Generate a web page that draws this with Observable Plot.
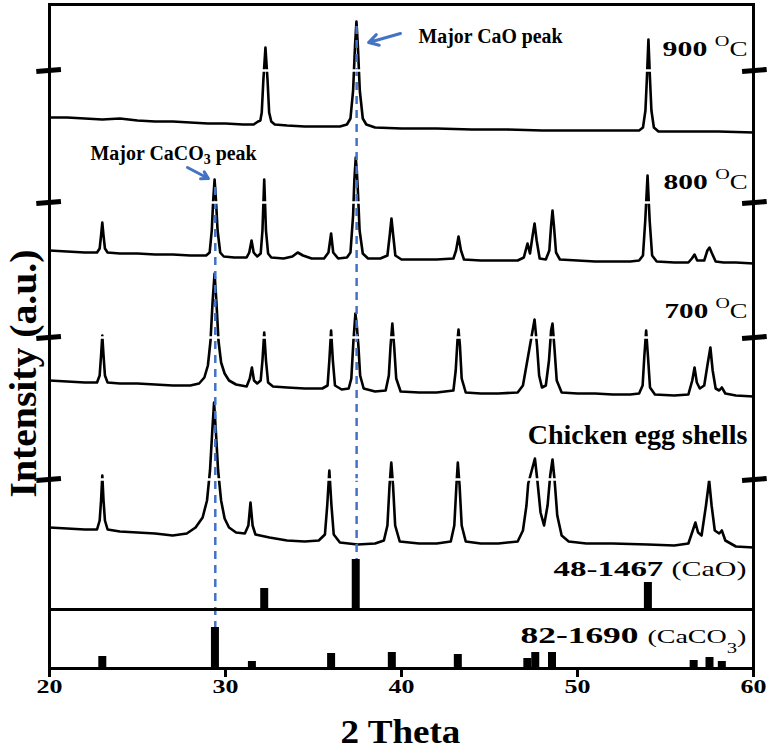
<!DOCTYPE html>
<html><head><meta charset="utf-8">
<script src="https://cdn.jsdelivr.net/npm/d3@7"></script>
<script src="https://cdn.jsdelivr.net/npm/@observablehq/plot@0.6"></script>
<style>
html,body{margin:0;padding:0;background:#fff;}
svg{display:block;}
</style></head><body>
<script>
// ---------- DATA (2θ, intensity in arbitrary units, stacked offsets as drawn) ----------
const xTicks = [20, 30, 40, 50, 60];

const trace900 = [[20,551],[21,551],[22,550],[23,549],[24,550],[25,548],[26,547],[27,547],[28,546],[29,545],[30,545],[31,544],[31.6,544],[31.85,547],[31.98,548],[32.06,556],[32.15,588],[32.27,621],[32.39,588],[32.48,556],[32.6,547],[32.8,544],[33.5,543],[34.5,542],[35.5,542],[36.5,542],[36.9,544],[37.1,550],[37.25,578],[37.36,623],[37.44,647],[37.52,623],[37.63,578],[37.8,550],[38.0,544],[38.5,541],[40,540],[42,540],[44,539],[46,539],[48,538],[50,538],[52,538],[53.5,538],[53.72,541],[53.86,558],[53.95,593],[54.03,629],[54.11,593],[54.2,558],[54.34,541],[54.6,537],[56,537],[58,537],[60,536]];

const trace800 = [[20,418],[21,417],[22,416],[22.7,416],[22.85,420],[22.93,433],[23.0,446],[23.07,433],[23.15,420],[23.3,416],[24,415],[25,415],[26,414],[27,414],[28,413],[28.9,413],[29.1,416],[29.22,438],[29.3,468],[29.38,489],[29.46,468],[29.55,438],[29.7,416],[29.9,412],[30.5,411],[31.2,411],[31.35,416],[31.48,428],[31.6,416],[31.8,412],[32.0,415],[32.1,438],[32.2,489],[32.3,438],[32.42,415],[32.6,411],[33.3,410],[33.8,412],[34.1,416],[34.4,413],[34.9,410],[35.6,410],[35.85,416],[36.0,435],[36.12,416],[36.4,410],[36.9,411],[37.1,416],[37.25,453],[37.32,488],[37.4,511],[37.46,498],[37.52,478],[37.62,438],[37.8,415],[38.1,410],[38.8,410],[39.2,413],[39.33,433],[39.43,450],[39.53,433],[39.65,413],[40.0,409],[41,409],[42,409],[42.95,410],[43.1,418],[43.24,432],[43.38,418],[43.55,409],[44.5,408],[45.5,408],[46.6,408],[46.95,411],[47.16,425],[47.3,415],[47.45,433],[47.56,445],[47.68,428],[47.85,410],[48.2,409],[48.4,418],[48.5,443],[48.58,458],[48.66,443],[48.78,416],[49.0,409],[50,408],[51,407],[52,407],[53,407],[53.5,408],[53.72,413],[53.85,448],[53.98,493],[54.1,448],[54.24,413],[54.5,407],[55.5,406],[56.3,406],[56.5,410],[56.65,414],[56.8,408],[57.2,408],[57.38,418],[57.5,421],[57.62,416],[57.85,407],[58.3,406],[59,406],[60,405]];

const trace700 = [[20,288],[21,287],[22,286],[22.7,286],[22.85,293],[22.93,313],[23.0,333],[23.07,313],[23.15,293],[23.3,286],[24,285],[25,285],[26,284],[27,283],[28,283],[28.5,285],[28.8,291],[29.0,303],[29.15,328],[29.27,368],[29.38,395],[29.48,368],[29.6,328],[29.75,306],[29.95,295],[30.2,288],[30.6,284],[31.2,282],[31.38,290],[31.5,301],[31.62,288],[31.8,285],[32.0,288],[32.1,308],[32.2,336],[32.3,308],[32.42,286],[32.7,282],[33.5,281],[34.5,280],[35.5,280],[35.8,283],[35.9,308],[36.0,338],[36.1,308],[36.22,283],[36.6,279],[37.0,280],[37.15,290],[37.27,328],[37.38,355],[37.46,343],[37.55,323],[37.65,293],[37.85,280],[38.5,277],[39.1,278],[39.28,293],[39.38,323],[39.48,345],[39.58,323],[39.7,290],[39.95,277],[41,276],[42,276],[42.95,278],[43.08,298],[43.18,328],[43.24,339],[43.32,323],[43.42,290],[43.65,276],[44.5,275],[45.5,275],[46.6,276],[46.9,283],[47.1,303],[47.25,318],[47.4,333],[47.56,349],[47.7,323],[47.82,293],[47.98,281],[48.2,283],[48.38,308],[48.5,338],[48.58,345],[48.68,323],[48.82,288],[49.1,276],[50,275],[51,275],[52,274],[53,274],[53.5,275],[53.7,283],[53.8,313],[53.9,338],[54.0,313],[54.12,281],[54.4,274],[55.5,273],[56.3,274],[56.52,288],[56.65,301],[56.78,286],[56.95,280],[57.2,283],[57.38,303],[57.55,321],[57.68,298],[57.85,280],[58.05,278],[58.2,281],[58.4,275],[59,273],[60,272]];

const traceEgg = [[20,141],[21,140],[22,139],[22.7,139],[22.85,148],[22.93,168],[23.0,193],[23.07,168],[23.15,148],[23.3,139],[24,137],[25,136],[26,135],[27,133],[27.8,135],[28.3,141],[28.7,151],[28.95,168],[29.12,198],[29.25,238],[29.35,266],[29.45,238],[29.58,198],[29.75,168],[29.95,150],[30.2,141],[30.6,136],[31.1,135],[31.3,143],[31.42,166],[31.54,143],[31.7,134],[32.5,131],[33.5,128],[34.5,127],[35.3,128],[35.65,134],[35.78,163],[35.9,198],[36.02,163],[36.15,134],[36.5,126],[37.5,124],[38.5,125],[39.0,128],[39.2,143],[39.32,183],[39.42,206],[39.52,183],[39.64,143],[39.9,127],[41,125],[42,125],[42.8,127],[43.0,143],[43.12,183],[43.2,206],[43.3,183],[43.42,143],[43.65,127],[44.5,125],[45.5,125],[46.6,127],[46.9,138],[47.1,163],[47.2,185],[47.4,198],[47.58,210],[47.72,188],[47.9,156],[48.1,143],[48.3,163],[48.45,193],[48.58,209],[48.7,188],[48.85,153],[49.1,133],[49.5,127],[50.5,125],[52,125],[54,124],[55.5,123],[56.3,125],[56.55,138],[56.7,146],[56.85,136],[57.05,133],[57.3,163],[57.48,188],[57.62,163],[57.8,138],[58.05,135],[58.2,138],[58.4,128],[59,122],[60,121]];

// Reference patterns (JCPDS)
const caoBase = 59;
const caoPeaks = [32.2, 37.4, 54.0];
const caoHeights = [21, 50, 27];
const caco3Peaks = [23.0, 29.4, 31.5, 36.0, 39.45, 43.2, 47.15, 47.6, 48.55, 56.6, 57.5, 58.2];
const caco3Heights = [12, 41, 7, 15, 16, 14, 10, 16, 16, 8, 11, 7];

// Annotations
const sampleLabels = ["900 OC", "800 OC", "700 OC", "Chicken egg shells"];
const refLabels = ["48-1467 (CaO)", "82-1690 (CaCO3)"];
const majorLabels = ["Major CaO peak", "Major CaCO3 peak"];
const breakLevels = [598, 466, 331, 189];
const majorLines = [{x: 29.42, y1: 39, y2: 487}, {x: 37.45, y1: 102, y2: 646}];

// ---------- LAYOUT ----------
const blue = "#4472c4";
const sampleY = [613, 480, 351, 225];
const sampleW = [85, 84, 83, 220];
const refY = [93, 26];
const refW = [193, 226];
const arrows = [
  {x1: 39.94, y1: 635, x2: 38.13, y2: 626},
  {x1: 27.84, y1: 501, x2: 29.03, y2: 490}
];
const majorPos = [{x: 40.97, y: 626, w: 145}, {x: 22.33, y: 509, w: 167}];

const P = d => d[0], V = d => d[1];
const lineOpts = {x: P, y: V, stroke: "black", strokeWidth: 2.6, strokeLinejoin: "round"};

const plot = Plot.plot({
  width: 770, height: 751,
  marginLeft: 49, marginRight: 17, marginTop: 4, marginBottom: 83,
  x: {domain: [20, 60], axis: null},
  y: {domain: [0, 664], axis: null},
  style: {fontFamily: "'Liberation Serif', 'Times New Roman', serif", background: "white", overflow: "visible"},
  marks: [
    Plot.line(trace900, lineOpts),
    Plot.line(trace800, lineOpts),
    Plot.line(trace700, lineOpts),
    Plot.line(traceEgg, lineOpts),
    Plot.ruleX(majorLines, {x: "x", y1: "y1", y2: "y2", stroke: blue, strokeWidth: 2.5, strokeDasharray: "8,6"}),
    Plot.ruleY(breakLevels, {x1: 20.15, x2: 59.85, y: d => d, stroke: "white", strokeWidth: 2.5}),
    Plot.ruleX(caoPeaks, {x: d => d, y1: caoBase, y2: (d, i) => caoBase + caoHeights[i], stroke: "black", strokeWidth: 8}),
    Plot.ruleX(caco3Peaks, {x: d => d, y1: 0, y2: (d, i) => caco3Heights[i], stroke: "black", strokeWidth: 8}),
    Plot.ruleY([caoBase], {x1: 20, x2: 60, y: d => d, stroke: "black", strokeWidth: 3}),
    Plot.frame({stroke: "black", strokeWidth: 3}),
    Plot.link(breakLevels, {x1: 19.25, x2: 20.65, y1: d => d - 1, y2: d => d + 1, stroke: "black", strokeWidth: 5}),
    Plot.link(breakLevels, {x1: 59.35, x2: 60.75, y1: d => d - 1, y2: d => d + 1, stroke: "black", strokeWidth: 5}),
    Plot.arrow(arrows, {x1: "x1", y1: "y1", x2: "x2", y2: "y2", stroke: blue, strokeWidth: 3, headLength: 11}),
    Plot.axisX({ticks: xTicks, tickSize: 9, tickPadding: 2, strokeWidth: 3, fontSize: 19, fontWeight: "bold", label: null, tickFormat: d => String(d)}),
    Plot.text(sampleLabels, {x: 59.66, y: (d, i) => sampleY[i], text: d => d, textAnchor: "end", lineAnchor: "bottom", fontSize: 27, fontWeight: "bold"}),
    Plot.text(refLabels, {x: 59.6, y: (d, i) => refY[i], text: d => d, textAnchor: "end", lineAnchor: "bottom", fontSize: 24, fontWeight: "bold"}),
    Plot.text(majorLabels, {x: (d, i) => majorPos[i].x, y: (d, i) => majorPos[i].y, text: d => d, textAnchor: "start", lineAnchor: "bottom", fontSize: 20, fontWeight: "bold"}),
    Plot.text(["2 Theta"], {x: 39.94, y: -74, text: d => d, textAnchor: "middle", lineAnchor: "bottom", fontSize: 34, fontWeight: "bold"}),
    Plot.text(["Intensity (a.u.)"], {x: 19.26, y: 295, text: d => d, rotate: -90, textAnchor: "middle", lineAnchor: "bottom", fontSize: 38, fontWeight: "bold"})
  ]
});
document.body.appendChild(plot);

// ---------- rich text (superscripts / subscripts, mixed weights) ----------
const sup = (t) => ({t, size: 15, weight: "normal", shift: -10});
const unit = (t, size) => ({t, size, weight: "normal", shift: 0});
const rich = {
  "900 OC": [{t: "900 ", size: 22}, sup("O"), unit("C", 20)],
  "800 OC": [{t: "800 ", size: 22}, sup("O"), unit("C", 20)],
  "700 OC": [{t: "700 ", size: 22}, sup("O"), unit("C", 20)],
  "48-1467 (CaO)": [{t: "48-1467 ", size: 22}, unit("(CaO)", 20)],
  "82-1690 (CaCO3)": [{t: "82-1690 ", size: 24}, unit("(CaCO", 19), {t: "3", size: 14, weight: "normal", shift: 10}, unit(")", 19)],
  "Major CaCO3 peak": [{t: "Major CaCO"}, {t: "3", size: 14, shift: 4}, {t: " peak", shift: 0}]
};
const widths = {};
sampleLabels.forEach((l, i) => widths[l] = sampleW[i]);
refLabels.forEach((l, i) => widths[l] = refW[i]);
majorLabels.forEach((l, i) => widths[l] = majorPos[i].w);
widths["2 Theta"] = 120;
widths["Intensity (a.u.)"] = 248;

function stretch(el, target) {
  const w = el.getBBox().width;
  if (w > 0) el.setAttribute("transform", (el.getAttribute("transform") || "") + ` scale(${target / w},1)`);
}

d3.select(plot).selectAll("text").each(function () {
  const key = this.textContent;
  if (rich[key]) {
    const sel = d3.select(this);
    sel.text(null);
    let shift = 0;
    for (const p of rich[key]) {
      const ts = sel.append("tspan").text(p.t);
      const s = p.shift || 0;
      if (s !== shift) ts.attr("dy", s - shift);
      shift = s;
      if (p.size) ts.attr("font-size", p.size);
      if (p.weight) ts.attr("font-weight", p.weight);
    }
  }
  if (widths[key]) stretch(this, widths[key]);
  else if (xTicks.map(String).includes(key)) stretch(this, 26);
});
</script>
</body></html>
